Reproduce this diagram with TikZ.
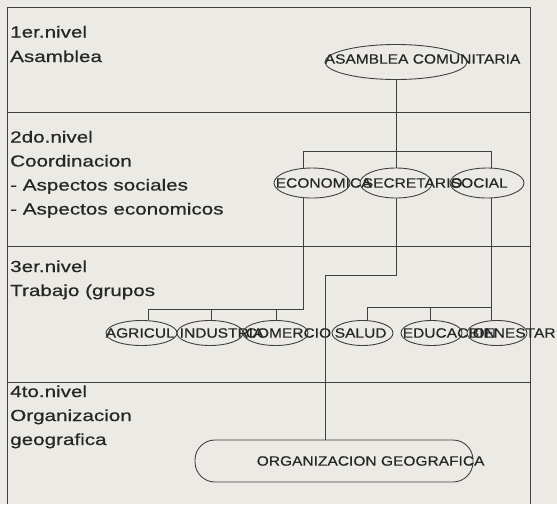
\documentclass[tikz,border=0pt]{standalone}
\usepackage{fontspec}
\usetikzlibrary{shapes.geometric}
\newfontfamily\lvlfont{Liberation Sans}[FakeStretch=1.29,FakeBold=0.6]
\newfontfamily\labfont{Liberation Sans}[FakeStretch=1.15,FakeBold=0.4]
\definecolor{paper}{HTML}{ECEAE5}
\definecolor{ink}{HTML}{262626}
\definecolor{wire}{HTML}{404040}
\begin{document}
\begin{tikzpicture}[x=1pt,y=-1pt,
  frame/.style={draw=wire, line width=0.9pt},
  conn/.style={draw=wire, line width=0.9pt},
  lvl/.style={font=\lvlfont\fontsize{16}{19}\selectfont, text=ink, anchor=base west, inner sep=0pt},
  oval/.style={ellipse, draw=wire, line width=0.9pt, inner sep=0pt},
  lab/.style={font=\labfont\fontsize{13.5}{16}\selectfont, text=ink, inner sep=0pt, anchor=west},
]
\fill[paper] (0,0) rectangle (557,504);
\useasboundingbox (0,0) rectangle (557,504);

% frame and level dividers
\draw[frame] (7,504) -- (7,7) -- (530,7) -- (530,504);
\draw[frame] (7,112) -- (530,112);
\draw[frame] (7,246) -- (530,246);
\draw[frame] (7,382) -- (530,382);

% level texts
\node[lvl] (n1a) at (10,37.5) {1er.nivel};
\node[lvl] (n1b) at (10,62) {Asamblea};
\node[lvl] (n2a) at (10,142.5) {2do.nivel};
\node[lvl] (n2b) at (10,166.5) {Coordinacion};
\node[lvl] (n2c) at (10,190.5) {- Aspectos sociales};
\node[lvl] (n2d) at (10,214.5) {- Aspectos economicos};
\node[lvl] (n3a) at (10,272) {3er.nivel};
\node[lvl] (n3b) at (10,296) {Trabajo (grupos};
\node[lvl] (n4a) at (10,397) {4to.nivel};
\node[lvl] (n4b) at (10,421) {Organizacion};
\node[lvl] (n4c) at (10,445) {geografica};

% level 1
\node[oval, minimum width=142pt, minimum height=35pt,
  label={[lab, yshift=3pt]west:ASAMBLEA COMUNITARIA}] (asam) at (396,62) {};

% level 2
\node[oval, minimum width=76pt, minimum height=30pt,
  label={[lab, xshift=2pt]west:ECONOMICA}] (eco) at (312,183) {};
\node[oval, minimum width=72pt, minimum height=30pt,
  label={[lab, xshift=3pt]west:SECRETARIO}] (sec) at (396,183) {};
\node[oval, minimum width=74pt, minimum height=30pt,
  label={[lab, xshift=1pt]west:SOCIAL}] (soc) at (487,183) {};

% level 3
\node[oval, minimum width=71pt, minimum height=25pt,
  label={[lab, xshift=0pt]west:AGRICUL}] (agr) at (141.5,333) {};
\node[oval, minimum width=66pt, minimum height=25pt,
  label={[lab, xshift=3pt]west:INDUSTRIA}] (ind) at (210,333) {};
\node[oval, minimum width=65pt, minimum height=25pt,
  label={[lab, xshift=3pt]west:COMERCIO}] (com) at (275.5,333) {};
\node[oval, minimum width=61pt, minimum height=25pt,
  label={[lab, xshift=3pt]west:SALUD}] (sal) at (362.5,333) {};
\node[oval, minimum width=61pt, minimum height=25pt,
  label={[lab, xshift=2pt]west:EDUCACION}] (edu) at (431.5,333) {};
\node[oval, minimum width=60pt, minimum height=25pt,
  label={[lab, xshift=2pt]west:BIENESTAR}] (bie) at (497,333) {};

% level 4
\node[draw=wire, line width=0.9pt, rounded corners=20pt, minimum width=278pt,
  minimum height=42pt, inner sep=0pt,
  label={[lab, xshift=62pt]west:ORGANIZACION GEOGRAFICA}] (org) at (334,461) {};

% connectors: level 1 -> level 2
\coordinate (k1) at (303,151);
\coordinate (k2) at (396,151);
\coordinate (k3) at (491,151);
\draw[conn] (asam) -- (k2);
\draw[conn] (k1) -- (k3);
\draw[conn] (k1) -- (k1 |- eco.north);
\draw[conn] (k2) -- (sec);
\draw[conn] (k3) -- (k3 |- soc.north);

% ECONOMICA -> production groups
\coordinate (k4) at (303,309);
\coordinate (d1) at (148,309);
\coordinate (d2) at (211,309);
\coordinate (d3) at (276,309);
\draw[conn] (k1 |- eco.south) -- (k4) -- (d1);
\draw[conn] (d1) -- (d1 |- agr.north);
\draw[conn] (d2) -- (d2 |- ind.north);
\draw[conn] (d3) -- (d3 |- com.north);

% SECRETARIO -> ORGANIZACION GEOGRAFICA
\coordinate (k5) at (396,275);
\coordinate (k6) at (325,275);
\draw[conn] (sec) -- (k5) -- (k6) -- (k6 |- org.north);

% SOCIAL -> social groups
\coordinate (k7) at (491,307);
\coordinate (d4) at (367,307);
\coordinate (d5) at (430,307);
\draw[conn] (k3 |- soc.south) -- (k7) -- (d4);
\draw[conn] (d4) -- (d4 |- sal.north);
\draw[conn] (d5) -- (d5 |- edu.north);
\draw[conn] (k7) -- (k7 |- bie.north);
\end{tikzpicture}
\end{document}
